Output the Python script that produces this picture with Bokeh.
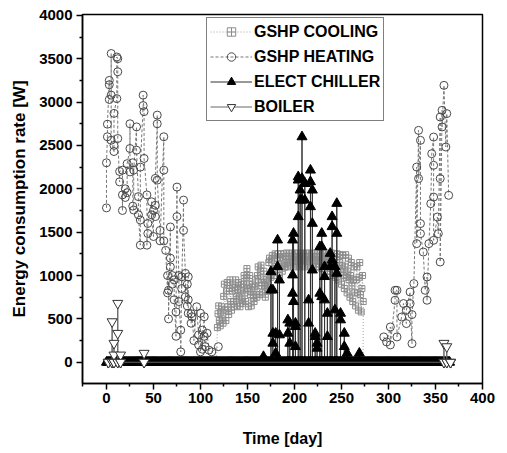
from bokeh.plotting import figure
from bokeh.models import Range1d, Legend, LegendItem, FixedTicker
from bokeh.embed import file_html
from bokeh.resources import INLINE

# ---------------- data ----------------
x_ticks = [0, 50, 100, 150, 200, 250, 300, 350, 400]
y_ticks = [0, 500, 1000, 1500, 2000, 2500, 3000, 3500, 4000]

# GSHP cooling: per sampled day, four hourly values (high .. low)
cool_days = [118, 121, 124, 127, 130, 133, 136, 139, 142, 145, 148, 151, 154,
             157, 160, 163, 166, 169, 172, 175, 178, 181, 184, 187, 190, 193,
             196, 199, 202, 205, 208, 211, 214, 217, 220, 223, 226, 229, 232,
             235, 238, 241, 244, 247, 250, 253, 256, 259, 262, 265, 268, 271]
cool_hi = [650, 640, 900, 920, 950, 900, 950, 920, 900, 1000,
           1080, 1000, 900, 950, 1100, 1120, 1050, 950, 1200, 1230,
           1250, 1250, 1250, 1250, 1260, 1250, 1260, 1250, 1260, 1250,
           1260, 1250, 1260, 1250, 1260, 1250, 1260, 1250, 1260, 1250,
           1260, 1250, 1250, 1240, 1230, 1240, 1200, 1150, 1100, 1100,
           1150, 1000]
cool_q3 = [560, 580, 760, 820, 850, 820, 860, 840, 820, 900,
           980, 900, 820, 870, 1000, 1050, 960, 880, 1150, 1180,
           1200, 1200, 1210, 1200, 1220, 1200, 1220, 1210, 1220, 1200,
           1220, 1210, 1220, 1200, 1220, 1210, 1220, 1200, 1220, 1210,
           1200, 1190, 1180, 1150, 1120, 1100, 1050, 1000, 950, 950,
           980, 850]
cool_q1 = [480, 500, 600, 640, 700, 700, 760, 740, 720, 800,
           850, 780, 740, 780, 880, 920, 880, 820, 1000, 1080,
           1100, 1100, 1120, 1100, 1150, 1150, 1170, 1160, 1180, 1170,
           1180, 1160, 1180, 1170, 1180, 1160, 1170, 1150, 1170, 1150,
           1120, 1100, 1080, 1050, 1000, 980, 950, 880, 800, 800,
           780, 700]
cool_lo = [400, 420, 450, 480, 550, 600, 640, 650, 640, 680,
           700, 640, 650, 700, 750, 780, 800, 750, 900, 980,
           1000, 1000, 1000, 1050, 1100, 1100, 1120, 1100, 1120, 1100,
           1120, 1100, 1120, 1100, 1120, 1100, 1100, 1080, 1100, 1050,
           1050, 1000, 980, 950, 900, 850, 800, 750, 700, 650,
           600, 580]
cool_start_end = [117, 273]

# GSHP heating: days and the hourly values seen on each
heat_days = [0, 1, 3, 5, 8, 11, 12, 14, 17, 20, 22, 25, 28, 29, 32, 34, 36, 39,
             40, 43, 44, 48, 50, 52, 54, 57, 61, 63, 65, 66, 68, 70, 72, 74, 75,
             77, 79, 80, 82, 84, 86, 87, 90, 91, 93, 96, 98, 100, 102, 104, 105,
             107, 109, 112, 119,
             295, 298, 302, 307, 309, 314, 316, 319, 323, 325, 327, 330, 332, 334,
             337, 339, 341, 343, 345, 346, 348, 352, 353, 355, 357, 359, 361, 362, 364]
heat_vals = [[1780, 2300], [2600, 2745], [3250, 3200, 3030], [3080, 3560, 2560],
             [2430, 2500, 2870], [3040, 3520], [3500, 3350, 2580], [2080, 2200],
             [2215, 1750, 1930], [2000, 1900], [1955, 2290], [2465, 2750, 2195],
             [2300, 1800], [1755, 2215], [2714, 2445], [1910, 1700], [1350, 1640, 2250],
             [2960, 3080], [2890, 2350], [1930, 1350], [1485, 1600], [1850, 1700],
             [1450, 1750], [1680, 1810, 2120], [2750, 2850, 2100], [1520, 1400],
             [2600, 2215, 1400], [1290], [800, 1000], [830, 500], [1560, 1200, 1100],
             [1000, 900], [950, 720], [300, 580], [2020, 1680], [1000, 700], [370, 120],
             [985, 850], [1870, 1520], [1025, 755], [900, 650], [985, 720, 565],
             [560, 450], [525], [250], [640], [315, 200], [565, 120], [370, 150],
             [525, 300], [180], [335], [140], [120], [180],
             [292], [234], [407, 200], [715, 830], [830, 292], [522], [677], [446, 600],
             [810, 677], [215, 550], [907], [2251, 1368], [2674, 2118], [2559, 1599, 1483],
             [1271], [830], [983, 715], [1368], [1829], [2405], [2597, 2271, 1905, 1406],
             [1675], [1483], [2828, 2118, 1156], [2905, 2713], [3193], [2482], [2867], [1925]]

# Electric chiller: active days and the hourly values on each
chill_days = [167, 175, 177, 180, 182, 184, 193, 195, 198, 199, 201, 204, 206, 208,
              211, 215, 217, 219, 222, 224, 227, 229, 232, 235, 238, 240, 243, 245,
              249, 253, 256, 269]
chill_vals = [[65], [1044, 833], [334, 219, 833], [104, 334], [1409, 1102], [315, 948],
              [488, 334], [219, 450], [1409, 795, 1006], [1486, 699], [450, 180, 411],
              [2138, 2100, 1678], [1985, 1870], [2119, 2599, 1870], [2062, 2062, 1870],
              [718, 450], [1793, 2215, 2081], [1985, 1601, 1063], [334, 296], [219, 161],
              [795, 1332], [1486, 1332, 756], [718, 987, 1102], [564, 296], [1102, 1255],
              [1678, 1563, 1179], [1102, 603], [1831, 1486, 1025], [564, 488], [334, 180],
              [104], [104]]
year_days = list(range(0, 366))   # daily time axis (zero consumption band)

# Boiler
boil_days = [2, 6, 8, 12, 15, 40, 359, 362, 366]
boil_vals = [[0], [468], [219, 84], [334, 680], [84], [104], [219], [180], [0]]


def flatten(days, vals, zeros=False, gap=None):
    xs, ys = [], []
    prev = None
    for d, vs in zip(days, vals):
        if gap is not None and prev is not None and d - prev > gap:
            xs.append(float("nan")); ys.append(float("nan"))
        prev = d
        if zeros:
            xs.append(d); ys.append(0)
        for v in vs:
            xs.append(d); ys.append(v)
        if zeros:
            xs.append(d); ys.append(0)
    return xs, ys


cx, cy = [cool_start_end[0]], [0]
for d, lo, q1, q3, hi in zip(cool_days, cool_lo, cool_q1, cool_q3, cool_hi):
    cx += [d, d + 0.7, d + 1.4, d + 2.1]
    cy += [lo, q3, hi, q1]
cx.append(cool_start_end[1]); cy.append(0)

hx, hy = flatten(heat_days, heat_vals, gap=60)
chx, chy = flatten(chill_days, chill_vals, zeros=True)
bx, by = flatten(boil_days, boil_vals, zeros=True)

# ---------------- figure ----------------
FONT = "Liberation Sans"
p = figure(width=500, height=452, output_backend="svg", toolbar_location=None,
           x_range=Range1d(-25.5, 400), y_range=Range1d(-245, 4010),
           min_border_left=82, min_border_right=18, min_border_top=14,
           min_border_bottom=69)
p.grid.visible = False
p.outline_line_color = "black"
p.outline_line_width = 1.5
p.background_fill_color = "white"

p.xaxis.ticker = FixedTicker(ticks=x_ticks, minor_ticks=[-25] + [t + 25 for t in x_ticks[:-1]])
p.yaxis.ticker = FixedTicker(ticks=y_ticks, minor_ticks=[-250] + [t + 250 for t in y_ticks[:-1]])
for ax in (p.xaxis[0], p.yaxis[0]):
    ax.axis_line_width = 1.5
    ax.major_tick_line_width = 1.5
    ax.minor_tick_line_width = 1.5
    ax.major_tick_in = 0
    ax.major_tick_out = 6
    ax.minor_tick_in = 0
    ax.minor_tick_out = 3
    ax.major_label_text_font = FONT
    ax.major_label_text_font_style = "bold"
    ax.major_label_text_font_size = "15px"
    ax.major_label_text_color = "black"
    ax.axis_label_text_font = FONT
    ax.axis_label_text_font_style = "bold"
    ax.axis_label_text_font_size = "16px"
    ax.axis_label_text_color = "black"
p.yaxis.axis_label_text_font_size = "17px"
p.xaxis.axis_label = "Time [day]"
p.yaxis.axis_label = "Energy consumption rate [W]"
p.xaxis.major_label_standoff = 3
p.xaxis.axis_label_standoff = 24
p.yaxis.major_label_standoff = 4
p.yaxis.axis_label_standoff = 7

# GSHP cooling
cl = p.line(cx, cy, line_color="#a0a0a0", line_dash="1 2", line_width=1)
cs = p.scatter(cx, cy, marker="square_cross", size=6, line_color="#8c8c8c",
               fill_color=None, line_width=1)

# GSHP heating
hl = p.line(hx, hy, line_color="#777777", line_dash="3 2", line_width=1)
hs = p.scatter(hx, hy, marker="circle", size=8, line_color="#4a4a4a",
               fill_color=None, line_width=1)

# Electric chiller
chl = p.line(chx, chy, line_color="#333333", line_width=1)
chs = p.scatter(chx, chy, marker="triangle", size=10, line_color="black",
                fill_color="black")
chz = p.scatter(year_days, [0] * len(year_days), marker="triangle", size=10,
                line_color="black", fill_color="black")

# Boiler
bl = p.line(bx, by, line_color="#666666", line_width=1)
bs = p.scatter(bx, by, marker="inverted_triangle", size=10, line_color="#333333",
               fill_color="white", line_width=1)

legend = Legend(items=[
    LegendItem(label="GSHP COOLING", renderers=[cl, cs]),
    LegendItem(label="GSHP HEATING", renderers=[hl, hs]),
    LegendItem(label="ELECT CHILLER", renderers=[chl, chs]),
    LegendItem(label="BOILER", renderers=[bl, bs]),
], location=(124, 262))
legend.label_text_font = FONT
legend.label_text_font_style = "bold"
legend.label_text_font_size = "16px"
legend.label_text_color = "black"
legend.glyph_width = 42
legend.glyph_height = 21
legend.label_height = 21
legend.label_standoff = 2
legend.spacing = 4
legend.padding = 3
legend.margin = 0
legend.border_line_color = "black"
legend.border_line_width = 1
legend.background_fill_alpha = 1
p.add_layout(legend, "center")

open("out.html", "w").write(file_html(p, INLINE))
